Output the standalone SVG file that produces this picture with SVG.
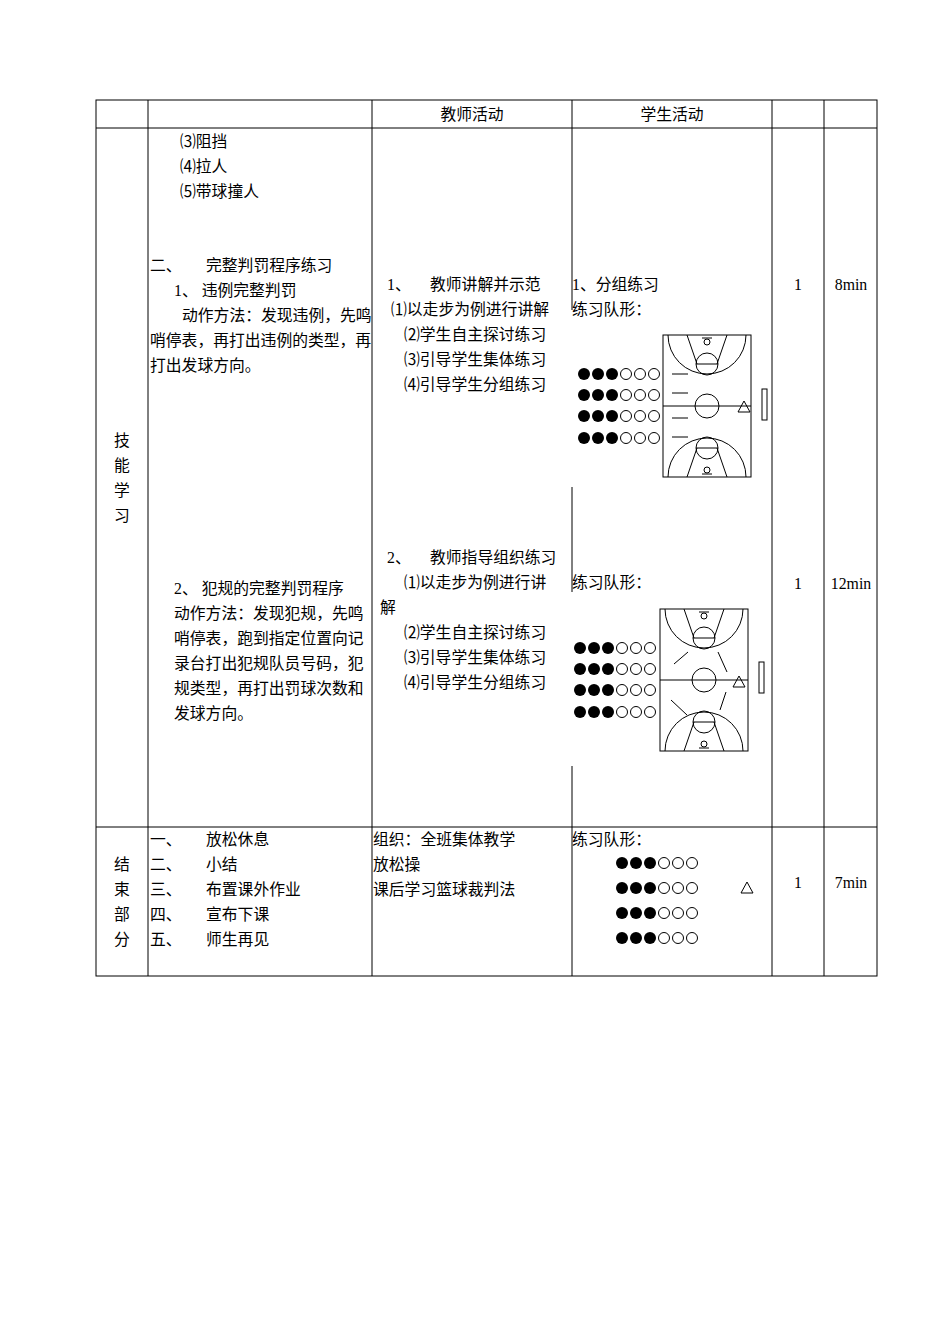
<svg xmlns="http://www.w3.org/2000/svg" xmlns:xlink="http://www.w3.org/1999/xlink" width="950" height="1344" viewBox="0 0 950 1344">
<style>
text{font-family:"Liberation Serif","Noto Sans CJK SC",serif;font-size:15.8px;fill:#000}
.c{text-anchor:middle}
.ln{stroke:#000;stroke-width:1;fill:none}
.f{fill:#000}
.o{fill:#fff;stroke:#000;stroke-width:1}
</style>
<defs>
<g id="court" class="ln" stroke="#000" fill="none">
<rect x="0" y="0" width="88" height="142"/>
<line x1="0" y1="71" x2="88" y2="71"/>
<circle cx="44" cy="71" r="12"/>
<path d="M5,0 A39,39 0 0 0 83,0"/>
<path d="M24,0 L34,29 M64,0 L54,29 M33,29 L55,29"/>
<circle cx="44" cy="29" r="11"/>
<circle cx="44" cy="7" r="3"/>
<path d="M39,3 L49,3"/>
<path d="M5,142 A39,39 0 0 1 83,142"/>
<path d="M24,142 L34,113 M64,142 L54,113 M33,113 L55,113"/>
<circle cx="44" cy="113" r="11"/>
<circle cx="44" cy="135" r="3"/>
<path d="M39,139 L49,139"/>
</g>
<g id="row">
<circle class="f" cx="0" cy="0" r="6"/><circle class="f" cx="14" cy="0" r="6"/><circle class="f" cx="28" cy="0" r="6"/>
<circle class="o" cx="42" cy="0" r="5.5"/><circle class="o" cx="56" cy="0" r="5.5"/><circle class="o" cx="70" cy="0" r="5.5"/>
</g>
</defs>
<g id="table" class="ln">
<rect x="96" y="100" width="781" height="876"/>
<line x1="96" y1="128" x2="877" y2="128"/>
<line x1="96" y1="827" x2="877" y2="827"/>
<line x1="148" y1="100" x2="148" y2="976"/>
<line x1="372" y1="100" x2="372" y2="976"/>
<line x1="572" y1="100" x2="572" y2="310"/>
<line x1="572" y1="487" x2="572" y2="592"/>
<line x1="572" y1="766" x2="572" y2="976"/>
<line x1="772" y1="100" x2="772" y2="976"/>
<line x1="824" y1="100" x2="824" y2="976"/>
</g>
<g id="header">
<text class="c" x="472" y="120">教师活动</text>
<text class="c" x="672" y="120">学生活动</text>
</g>
<g id="left-labels">
<text class="c" x="122" y="446">技</text><text class="c" x="122" y="471">能</text><text class="c" x="122" y="496">学</text><text class="c" x="122" y="521">习</text>
<text class="c" x="122" y="870">结</text><text class="c" x="122" y="895">束</text><text class="c" x="122" y="920">部</text><text class="c" x="122" y="945">分</text>
</g>
<g id="content">
<text x="180" y="147">⑶阻挡</text>
<text x="180" y="172">⑷拉人</text>
<text x="180" y="197">⑸带球撞人</text>
<text x="150" y="271">二、</text><text x="206" y="271">完整判罚程序练习</text>
<text x="174" y="296">1、 违例完整判罚</text>
<text x="182" y="321">动作方法：发现违例，先鸣</text>
<text x="150" y="346">哨停表，再打出违例的类型，再</text>
<text x="150" y="371">打出发球方向。</text>
<text x="174" y="594">2、 犯规的完整判罚程序</text>
<text x="174" y="619">动作方法：发现犯规，先鸣</text>
<text x="174" y="644">哨停表，跑到指定位置向记</text>
<text x="174" y="669">录台打出犯规队员号码，犯</text>
<text x="174" y="694">规类型，再打出罚球次数和</text>
<text x="174" y="719">发球方向。</text>
<text x="387" y="290">1、</text><text x="430" y="290">教师讲解并示范</text>
<text x="391" y="315">⑴以走步为例进行讲解</text>
<text x="404" y="340">⑵学生自主探讨练习</text>
<text x="404" y="365">⑶引导学生集体练习</text>
<text x="404" y="390">⑷引导学生分组练习</text>
<text x="387" y="563">2、</text><text x="430" y="563">教师指导组织练习</text>
<text x="404" y="588">⑴以走步为例进行讲</text>
<text x="380" y="613">解</text>
<text x="404" y="638">⑵学生自主探讨练习</text>
<text x="404" y="663">⑶引导学生集体练习</text>
<text x="404" y="688">⑷引导学生分组练习</text>
<text x="572" y="290">1、分组练习</text>
<text x="572" y="315">练习队形：</text>
<text x="572" y="588">练习队形：</text>
<text class="c" x="798" y="290">1</text><text class="c" x="851" y="290">8min</text>
<text class="c" x="798" y="589">1</text><text class="c" x="851" y="589">12min</text>
<text x="150" y="845">一、</text><text x="206" y="845">放松休息</text>
<text x="150" y="870">二、</text><text x="206" y="870">小结</text>
<text x="150" y="895">三、</text><text x="206" y="895">布置课外作业</text>
<text x="150" y="920">四、</text><text x="206" y="920">宣布下课</text>
<text x="150" y="945">五、</text><text x="206" y="945">师生再见</text>
<text x="373" y="845">组织：全班集体教学</text>
<text x="373" y="870">放松操</text>
<text x="373" y="895">课后学习篮球裁判法</text>
<text x="572" y="845">练习队形：</text>
<text class="c" x="798" y="888">1</text><text class="c" x="851" y="888">7min</text>
</g>
<g id="court1">
<use xlink:href="#court" x="663" y="335"/>
<use xlink:href="#row" x="584" y="374"/><use xlink:href="#row" x="584" y="395"/><use xlink:href="#row" x="584" y="416"/><use xlink:href="#row" x="584" y="438"/>
<path class="ln" d="M672,374 H688 M672,393 H688 M672,418 H688 M672,437 H688"/>
<path class="ln" d="M744,401 L750,412 L738,412 Z"/>
<rect class="ln" x="762" y="389" width="5" height="31"/>
</g>
<g id="court2">
<use xlink:href="#court" x="660" y="609"/>
<use xlink:href="#row" x="580" y="648"/><use xlink:href="#row" x="580" y="669"/><use xlink:href="#row" x="580" y="690"/><use xlink:href="#row" x="580" y="712"/>
<path class="ln" d="M674,664 L688,652 M718,652 L727,672 M671,700 L687,715 M726,692 L720,710"/>
<path class="ln" d="M739,676 L745,687 L733,687 Z"/>
<rect class="ln" x="759" y="662" width="5" height="31"/>
</g>
<g id="formation3">
<use xlink:href="#row" x="622" y="863"/><use xlink:href="#row" x="622" y="888"/><use xlink:href="#row" x="622" y="913"/><use xlink:href="#row" x="622" y="938"/>
<path class="ln" d="M747,882 L753,893 L741,893 Z"/>
</g>
</svg>
